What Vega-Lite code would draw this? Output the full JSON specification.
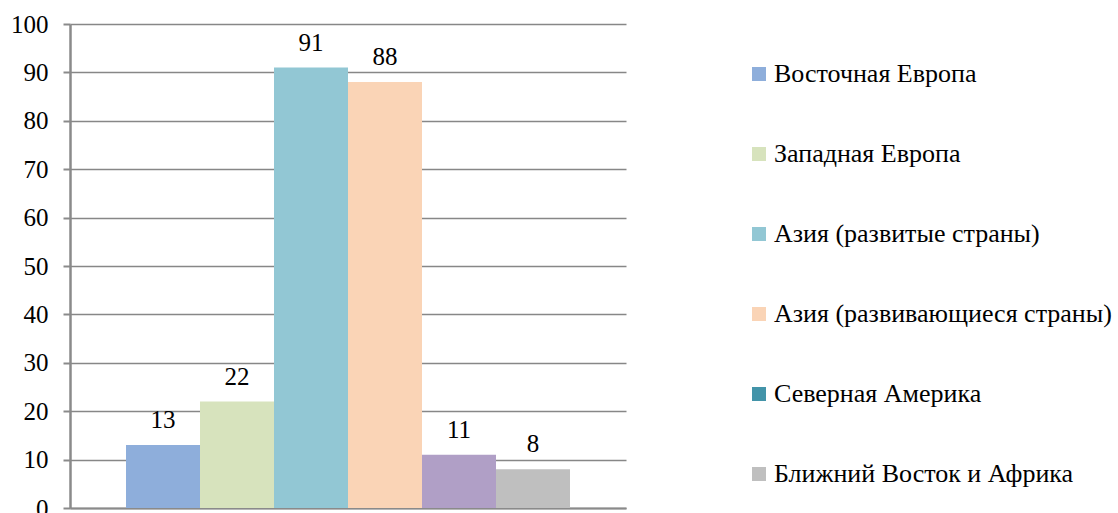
{
  "$schema": "https://vega.github.io/schema/vega-lite/v6.json",
  "width": 556,
  "height": 484,
  "autosize": {"type": "none"},
  "padding": {"left": 70, "top": 24, "right": 492, "bottom": 5},
  "background": "white",
  "config": {
    "view": {"stroke": null},
    "font": "'Liberation Serif', 'DejaVu Serif', serif"
  },
  "data": {
    "values": [
      {"region": "Восточная Европа", "value": 13},
      {"region": "Западная Европа", "value": 22},
      {"region": "Азия (развитые страны)", "value": 91},
      {"region": "Азия (развивающиеся страны)", "value": 88},
      {"region": "Северная Америка", "value": 11},
      {"region": "Ближний Восток и Африка", "value": 8}
    ]
  },
  "encoding": {
    "x": {
      "field": "region",
      "type": "nominal",
      "sort": null,
      "scale": {"paddingInner": 0, "paddingOuter": 0.7568},
      "axis": {
        "title": null,
        "labels": false,
        "ticks": false,
        "domainColor": "#8a8a8a",
        "domainWidth": 2
      }
    },
    "y": {
      "field": "value",
      "type": "quantitative",
      "scale": {"domain": [0, 100], "nice": false},
      "axis": {
        "title": null,
        "values": [0, 10, 20, 30, 40, 50, 60, 70, 80, 90, 100],
        "grid": true,
        "gridColor": "#878787",
        "gridWidth": 1.5,
        "domainColor": "#8a8a8a",
        "domainWidth": 2.5,
        "tickColor": "#8a8a8a",
        "tickWidth": 2,
        "tickSize": 7,
        "labelFont": "'Liberation Serif', 'DejaVu Serif', serif",
        "labelFontSize": 25,
        "labelColor": "#000000",
        "labelPadding": 15
      }
    }
  },
  "layer": [
    {
      "mark": {"type": "bar"},
      "encoding": {
        "color": {
          "field": "region",
          "type": "nominal",
          "sort": null,
          "scale": {
            "domain": ["Восточная Европа", "Западная Европа", "Азия (развитые страны)", "Азия (развивающиеся страны)", "Северная Америка", "Ближний Восток и Африка"],
            "range": ["#8eaedb", "#d7e3bd", "#92c7d4", "#fad4b6", "#b09fc6", "#bfbfbf"]
          },
          "legend": null
        }
      }
    },
    {
      "mark": {"type": "bar"},
      "encoding": {
        "y": {"datum": 0},
        "color": {
          "field": "region",
          "type": "nominal",
          "sort": null,
          "scale": {
            "domain": ["Восточная Европа", "Западная Европа", "Азия (развитые страны)", "Азия (развивающиеся страны)", "Северная Америка", "Ближний Восток и Африка"],
            "range": ["#8eaedb", "#d7e3bd", "#92c7d4", "#fad4b6", "#4394a9", "#bfbfbf"]
          },
          "legend": {
            "title": null,
            "orient": "none",
            "legendX": 676,
            "legendY": 37,
            "padding": 0,
            "symbolType": "square",
            "symbolSize": 196,
            "symbolStrokeWidth": 0,
            "labelFont": "'Liberation Serif', 'DejaVu Serif', serif",
            "labelFontSize": 26,
            "labelColor": "#000000",
            "labelLimit": 500,
            "labelOffset": 2,
            "rowPadding": 54
          }
        }
      }
    },
    {
      "mark": {
        "type": "text",
        "font": "'Liberation Serif', 'DejaVu Serif', serif",
        "fontSize": 25,
        "color": "#000000",
        "baseline": "alphabetic",
        "dy": -17
      },
      "encoding": {
        "text": {"field": "value", "type": "quantitative"}
      }
    }
  ],
  "resolve": {"scale": {"color": "independent"}}
}
